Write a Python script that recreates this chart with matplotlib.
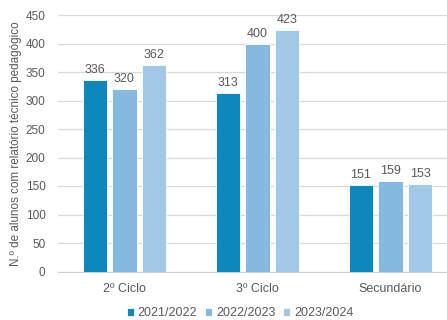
import numpy as np
import matplotlib
matplotlib.use("Agg")
import matplotlib.pyplot as plt

# data
categories = ["2º Ciclo", "3º Ciclo", "Secundário"]
years = ["2021/2022", "2022/2023", "2023/2024"]
v_2122 = [336, 313, 151]
v_2223 = [320, 400, 159]
v_2324 = [362, 423, 153]
colors = ["#0E87BC", "#85B9E0", "#A2C8E8"]

plt.rcParams['font.family'] = ['Liberation Sans', 'DejaVu Sans']

fig = plt.figure(figsize=(4.47, 3.2), dpi=100)
ax = fig.add_axes([58 / 447, 48.5 / 320, 389 / 447, 256.5 / 320])

x = np.arange(len(categories))
width = 0.185
step = 0.222
series = [v_2122, v_2223, v_2324]
for i, vals in enumerate(series):
    pos = x + (i - 1) * step
    bars = ax.bar(pos, vals, width, color=colors[i], edgecolor="white",
                  linewidth=0.6, label=years[i], zorder=3)
    for b, v in zip(bars, vals):
        ax.text(b.get_x() + b.get_width() / 2, v + 7, str(v), ha="center",
                va="bottom", fontsize=9, color="#595959")

ax.set_ylim(0, 450)
ax.set_yticks(range(0, 451, 50))
ax.set_xlim(-0.5, -0.5 + 389 / 133)
ax.set_xticks(x)
ax.set_xticklabels(categories)
ax.grid(axis="y", color="#D9D9D9", linewidth=0.9, zorder=0)
for s in ["top", "right", "left"]:
    ax.spines[s].set_visible(False)
ax.spines["bottom"].set_color("#D0D0D0")
ax.tick_params(axis="both", length=0, colors="#595959", labelsize=9)
ax.tick_params(axis="x", pad=8)
ax.tick_params(axis="y", pad=9, labelsize=8.5)

ax.set_ylabel("N.º de alunos com relatório técnico pedagógico", fontsize=8.4,
              color="#595959")
ax.yaxis.set_label_coords(-0.092, 0.5)

fig.legend(loc="center", bbox_to_anchor=(240 / 447, 1 - 313 / 320), ncol=3,
           frameon=False, fontsize=9, handlelength=0.6, handleheight=0.6,
           handletextpad=0.3, columnspacing=0.6, labelcolor="#595959")

fig.savefig("out.png", dpi=100)
